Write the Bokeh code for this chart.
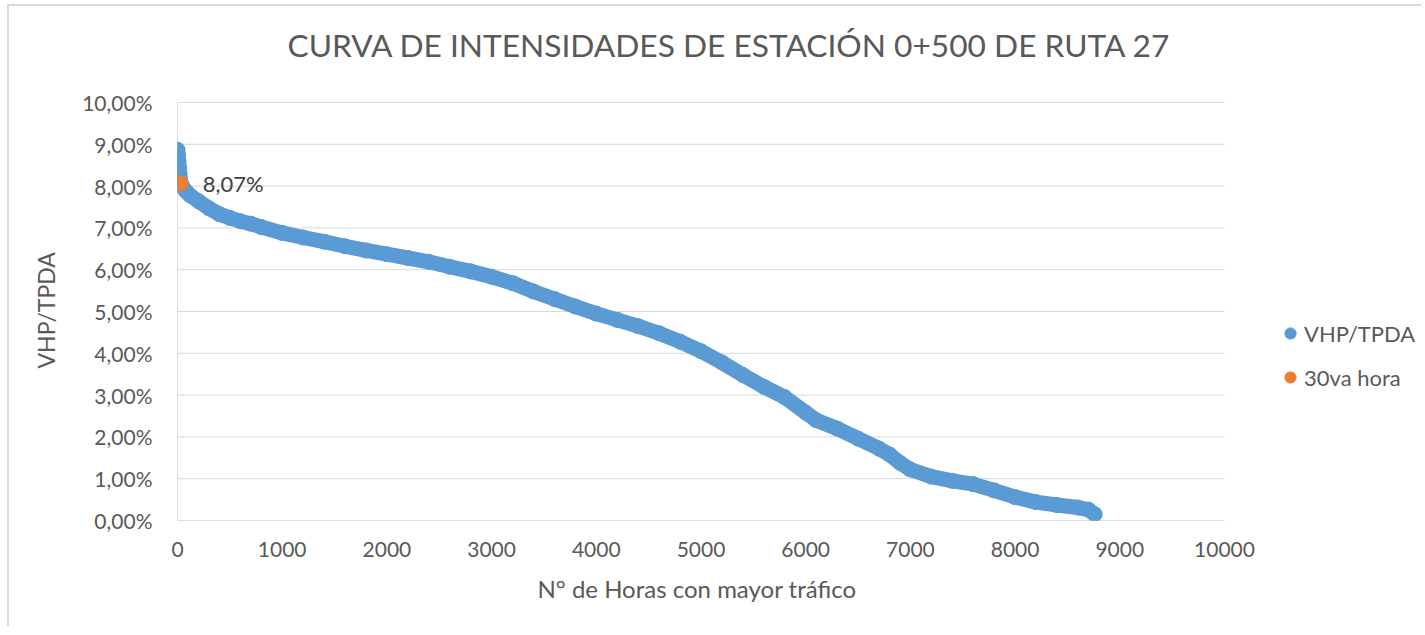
from bokeh.plotting import figure
from bokeh.models import Legend, LegendItem, Label, FixedTicker, Range1d, Title
from bokeh.embed import file_html
from bokeh.resources import INLINE

# data (hours vs VHP/TPDA in %)
hours = [0, 5, 10, 15, 20, 25, 50, 80, 120, 200, 300, 400, 500, 600, 700, 800,
         1000, 1200, 1400, 1600, 1800, 2000, 2200, 2400, 2600, 2800, 3000, 3200,
         3400, 3600, 3800, 4000, 4200, 4400, 4600, 4800, 5000, 5200, 5400, 5600,
         5800, 6000, 6100, 6300, 6500, 6700, 6800, 6900, 7000, 7200, 7400, 7600,
         7800, 8000, 8200, 8400, 8600, 8700, 8760]
vhp = [8.87, 8.75, 8.60, 8.45, 8.30, 8.15, 7.98, 7.88, 7.78, 7.64, 7.47, 7.33, 7.24,
       7.16, 7.10, 7.02, 6.88, 6.77, 6.67, 6.56, 6.46, 6.37, 6.28, 6.19, 6.07, 5.96,
       5.83, 5.68, 5.48, 5.30, 5.12, 4.95, 4.80, 4.65, 4.48, 4.28, 4.05, 3.78, 3.48,
       3.20, 2.95, 2.58, 2.40, 2.20, 1.96, 1.72, 1.58, 1.38, 1.22, 1.05, 0.95, 0.87,
       0.72, 0.56, 0.44, 0.37, 0.31, 0.26, 0.15]
hour30 = [30]
val30 = [8.07]
label30 = "8,07%"

y_ticks = [0, 1, 2, 3, 4, 5, 6, 7, 8, 9, 10]
y_labels = ["0,00%", "1,00%", "2,00%", "3,00%", "4,00%", "5,00%", "6,00%",
            "7,00%", "8,00%", "9,00%", "10,00%"]
x_ticks = [0, 1000, 2000, 3000, 4000, 5000, 6000, 7000, 8000, 9000, 10000]

BLUE = "#5B9BD5"
ORANGE = "#ED7D31"
TXT = "#595959"
FONT = "Lato"

# layout (pixels): canvas size, plot-area box of the axes
W, H = 1414, 622
LEFT, BOTTOM = 168, 108          # axes start (canvas px)
AX_W, AX_H = 1047, 418           # pixel extent of 0..10000 and 0..10 %
x_end = x_ticks[-1] * (W - LEFT) / AX_W
y_end = y_ticks[-1] * (H - BOTTOM) / AX_H

p = figure(width=W, height=H, output_backend="svg", toolbar_location=None,
           title_location=None,
           x_range=Range1d(0, x_end), y_range=Range1d(0, y_end),
           min_border_left=LEFT, min_border_right=0, min_border_top=0,
           min_border_bottom=BOTTOM)
p.outline_line_color = None
p.border_fill_color = "white"
p.styles = {"border-top": "2px solid #d9d9d9", "border-left": "2px solid #d9d9d9",
            "margin-left": "7px", "margin-top": "4px"}

# grid lines and axis lines limited to the axes extent
p.segment(x0=[x_ticks[0]] * (len(y_ticks) - 1), x1=[x_ticks[-1]] * (len(y_ticks) - 1),
          y0=y_ticks[1:], y1=y_ticks[1:], line_color="#d9d9d9", line_width=1)
p.segment(x0=[x_ticks[0]], x1=[x_ticks[-1]], y0=[y_ticks[0]], y1=[y_ticks[0]],
          line_color="#bfbfbf", line_width=1)
p.segment(x0=[x_ticks[0]], x1=[x_ticks[0]], y0=[y_ticks[0]], y1=[y_ticks[-1]],
          line_color="#bfbfbf", line_width=1)

# thick line underneath to form the dense band of markers
p.line(hours, vhp, line_width=15, color=BLUE, line_join="round", line_cap="round")
r_blue = p.scatter(hours, vhp, size=15, color=BLUE)
r_or = p.scatter(hour30, val30, size=15, color=ORANGE)

p.add_layout(Label(x=hour30[0], y=val30[0], text=label30, x_offset=22,
                   text_baseline="middle", text_font=FONT, text_font_size="22px",
                   text_color="#404040"))

# chart title
p.add_layout(Label(x=x_ticks[0], y=y_end, x_offset=110, y_offset=-38,
                   text="CURVA DE INTENSIDADES DE ESTACIÓN 0+500 DE RUTA 27",
                   text_baseline="middle", text_font=FONT, text_font_size="31.7px",
                   text_color=TXT))

p.xaxis.ticker = FixedTicker(ticks=x_ticks)
p.xaxis.major_label_overrides = {t: str(t) for t in x_ticks}
p.yaxis.ticker = FixedTicker(ticks=y_ticks)
p.yaxis.major_label_overrides = {t: l for t, l in zip(y_ticks, y_labels)}

for ax in (p.xaxis[0], p.yaxis[0]):
    ax.major_label_text_font = FONT
    ax.major_label_text_font_size = "21px"
    ax.major_label_text_color = TXT
    ax.axis_line_color = None
    ax.major_tick_line_color = None
    ax.minor_tick_line_color = None

p.xaxis.major_label_standoff = 15
p.yaxis.major_label_standoff = 19

p.add_layout(Title(text="N° de Horas con mayor tráfico", align="left", offset=360,
                   text_font=FONT, text_font_size="24px", text_font_style="normal",
                   text_color=TXT, standoff=25), "below")
p.add_layout(Title(text="VHP/TPDA", align="left", offset=152,
                   text_font=FONT, text_font_size="23px", text_font_style="normal",
                   text_color=TXT, standoff=40), "left")

p.xgrid.grid_line_color = None
p.ygrid.grid_line_color = None

legend = Legend(items=[LegendItem(label="VHP/TPDA", renderers=[r_blue]),
                       LegendItem(label="30va hora", renderers=[r_or])],
                location=(1099, 129), border_line_color=None,
                background_fill_alpha=0, label_text_font=FONT,
                label_text_font_size="22px", label_text_color=TXT,
                glyph_width=28, glyph_height=28, label_standoff=0, spacing=16,
                padding=0, margin=0)
p.add_layout(legend, "center")

html = file_html(p, INLINE)
open("out.html", "w").write(html)
